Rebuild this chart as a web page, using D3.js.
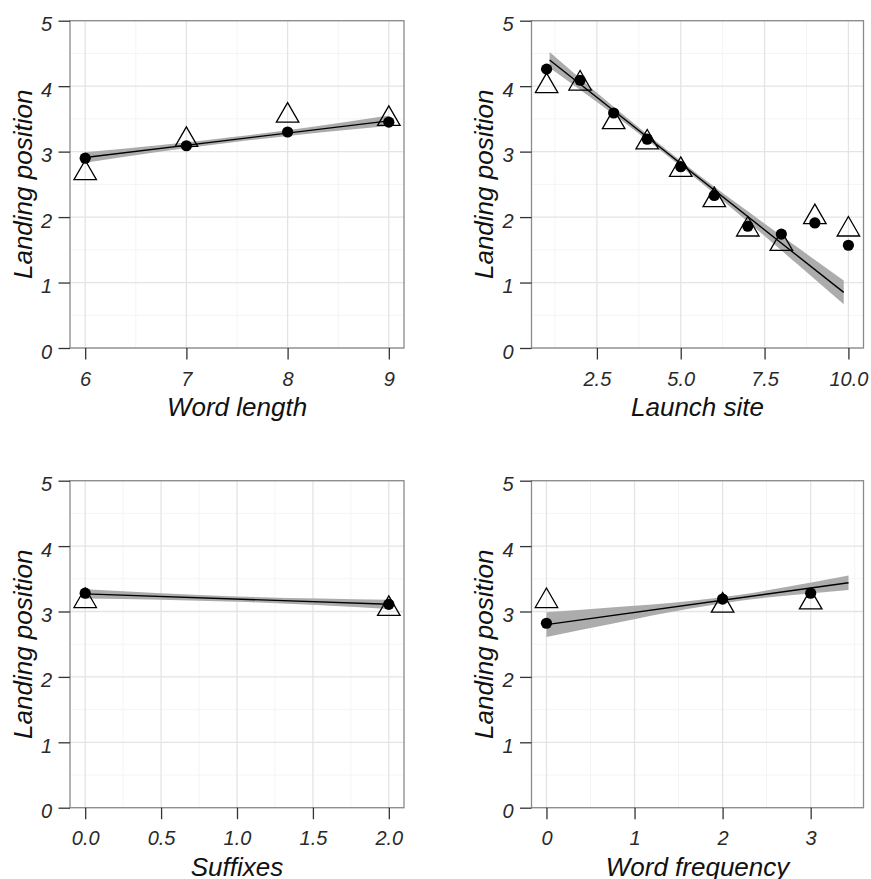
<!DOCTYPE html>
<html>
<head>
<meta charset="utf-8">
<script src="https://cdn.jsdelivr.net/npm/d3@7"></script>
<style>
  html, body { margin: 0; padding: 0; background: #ffffff; }
  svg { display: block; }
  text { font-family: "Liberation Sans", Arial, sans-serif; font-style: italic; }
</style>
</head>
<body>
<svg id="chart" width="871" height="879"></svg>
<script>
// ---- shared y scale values ----
const yTicks = [0, 1, 2, 3, 4, 5];
const yMinor = [0.5, 1.5, 2.5, 3.5, 4.5];
const yTitle = "Landing position";

// ---- Word length ----
const wordLengthX = [6, 7, 8, 9];
const wordLengthCircles = [2.90, 3.09, 3.30, 3.45];
const wordLengthTriangles = [2.67, 3.18, 3.55, 3.50];
const wordLengthFit = [[6, 2.91], [9, 3.47]];
const wordLengthBandX = [6, 6.75, 7.5, 8.25, 9];
const wordLengthBandHalf = [0.08, 0.05, 0.04, 0.05, 0.08];
const wordLengthTicks = [6, 7, 8, 9];
const wordLengthTickLabels = ["6", "7", "8", "9"];
const wordLengthMinor = [6.5, 7.5, 8.5];
const wordLengthDomain = [5.85, 9.15];

// ---- Launch site ----
const launchSiteX = [1, 2, 3, 4, 5, 6, 7, 8, 9, 10];
const launchSiteCircles = [4.26, 4.09, 3.59, 3.19, 2.77, 2.33, 1.86, 1.74, 1.91, 1.57];
const launchSiteTriangles = [4.00, 4.04, 3.45, 3.14, 2.72, 2.26, 1.81, 1.59, 2.00, 1.81];
const launchSiteFit = [[1.09, 4.40], [9.86, 0.85]];
const launchSiteBandX = [1.09, 2.5, 4, 5.5, 7, 8.5, 9.86];
const launchSiteBandHalf = [0.12, 0.07, 0.045, 0.045, 0.08, 0.13, 0.18];
const launchSiteTicks = [2.5, 5, 7.5, 10];
const launchSiteTickLabels = ["2.5", "5.0", "7.5", "10.0"];
const launchSiteMinor = [1.25, 3.75, 6.25, 8.75];
const launchSiteDomain = [0.55, 10.45];

// ---- Suffixes ----
const suffixesX = [0, 2];
const suffixesCircles = [3.28, 3.11];
const suffixesTriangles = [3.16, 3.04];
const suffixesFit = [[0, 3.27], [2, 3.11]];
const suffixesBandX = [0, 1, 2];
const suffixesBandHalf = [0.07, 0.04, 0.07];
const suffixesTicks = [0, 0.5, 1, 1.5, 2];
const suffixesTickLabels = ["0.0", "0.5", "1.0", "1.5", "2.0"];
const suffixesMinor = [0.25, 0.75, 1.25, 1.75];
const suffixesDomain = [-0.1, 2.1];

// ---- Word frequency ----
const wordFreqX = [0, 2, 3];
const wordFreqCircles = [2.82, 3.19, 3.28];
const wordFreqTriangles = [3.16, 3.09, 3.14];
const wordFreqFit = [[0, 2.80], [3.43, 3.44]];
const wordFreqBandX = [0, 0.8, 1.6, 2.2, 2.8, 3.43];
const wordFreqBandHalf = [0.19, 0.12, 0.06, 0.045, 0.07, 0.11];
const wordFreqTicks = [0, 1, 2, 3];
const wordFreqTickLabels = ["0", "1", "2", "3"];
const wordFreqMinor = [0.5, 1.5, 2.5, 3.5];
const wordFreqDomain = [-0.17, 3.6];

// ---- panel assembly ----
const panels = [
  { title: "Word length", x: wordLengthX, circles: wordLengthCircles, triangles: wordLengthTriangles,
    fit: wordLengthFit, bandX: wordLengthBandX, bandHalf: wordLengthBandHalf,
    ticks: wordLengthTicks, labels: wordLengthTickLabels, minor: wordLengthMinor, domain: wordLengthDomain,
    box: { left: 70, right: 404, top: 20.7, bottom: 348 } },
  { title: "Launch site", x: launchSiteX, circles: launchSiteCircles, triangles: launchSiteTriangles,
    fit: launchSiteFit, bandX: launchSiteBandX, bandHalf: launchSiteBandHalf,
    ticks: launchSiteTicks, labels: launchSiteTickLabels, minor: launchSiteMinor, domain: launchSiteDomain,
    box: { left: 531.5, right: 863.5, top: 20.7, bottom: 348 } },
  { title: "Suffixes", x: suffixesX, circles: suffixesCircles, triangles: suffixesTriangles,
    fit: suffixesFit, bandX: suffixesBandX, bandHalf: suffixesBandHalf,
    ticks: suffixesTicks, labels: suffixesTickLabels, minor: suffixesMinor, domain: suffixesDomain,
    box: { left: 70, right: 404, top: 480.7, bottom: 807.7 } },
  { title: "Word frequency", x: wordFreqX, circles: wordFreqCircles, triangles: wordFreqTriangles,
    fit: wordFreqFit, bandX: wordFreqBandX, bandHalf: wordFreqBandHalf,
    ticks: wordFreqTicks, labels: wordFreqTickLabels, minor: wordFreqMinor, domain: wordFreqDomain,
    box: { left: 531.5, right: 863.5, top: 480.7, bottom: 807.7 } }
];

const svg = d3.select("#chart");

// open triangle in the style of R's pch 2, centred on its centroid
function trianglePath(cx, cy) {
  const up = 13, down = 6.5, half = 11.25;
  return `M${cx},${cy - up}L${cx + half},${cy + down}L${cx - half},${cy + down}Z`;
}

panels.forEach(p => {
  const b = p.box;
  const x = d3.scaleLinear().domain(p.domain).range([b.left, b.right]);
  const y = d3.scaleLinear().domain([0, 5]).range([b.bottom, b.top]);
  const g = svg.append("g");

  // panel background
  g.append("rect").attr("x", b.left).attr("y", b.top)
    .attr("width", b.right - b.left).attr("height", b.bottom - b.top)
    .attr("fill", "#ffffff");

  // minor grid
  g.selectAll(".xminor").data(p.minor).join("line")
    .attr("x1", d => x(d)).attr("x2", d => x(d)).attr("y1", b.top).attr("y2", b.bottom)
    .attr("stroke", "#f4f4f4").attr("stroke-width", 1);
  g.selectAll(".yminor").data(yMinor).join("line")
    .attr("y1", d => y(d)).attr("y2", d => y(d)).attr("x1", b.left).attr("x2", b.right)
    .attr("stroke", "#f4f4f4").attr("stroke-width", 1);
  // major grid
  g.selectAll(".xmajor").data(p.ticks).join("line")
    .attr("x1", d => x(d)).attr("x2", d => x(d)).attr("y1", b.top).attr("y2", b.bottom)
    .attr("stroke", "#e4e4e4").attr("stroke-width", 1.3);
  g.selectAll(".ymajor").data(yTicks).join("line")
    .attr("y1", d => y(d)).attr("y2", d => y(d)).attr("x1", b.left).attr("x2", b.right)
    .attr("stroke", "#e4e4e4").attr("stroke-width", 1.3);

  // fitted line and its confidence band
  const slope = (p.fit[1][1] - p.fit[0][1]) / (p.fit[1][0] - p.fit[0][0]);
  const fitAt = v => p.fit[0][1] + slope * (v - p.fit[0][0]);
  const band = p.bandX.map((v, i) => ({ x: v, lo: fitAt(v) - p.bandHalf[i], hi: fitAt(v) + p.bandHalf[i] }));
  g.append("path").datum(band)
    .attr("d", d3.area().curve(d3.curveMonotoneX)
      .x(d => x(d.x)).y0(d => y(d.lo)).y1(d => y(d.hi)))
    .attr("fill", "#acacac");
  g.append("path").datum(p.fit)
    .attr("d", d3.line().x(d => x(d[0])).y(d => y(d[1])))
    .attr("stroke", "#000").attr("stroke-width", 1.4).attr("fill", "none");

  // open triangles
  g.selectAll(".tri").data(p.x.map((v, i) => [v, p.triangles[i]])).join("path")
    .attr("d", d => trianglePath(x(d[0]), y(d[1])))
    .attr("fill", "none").attr("stroke", "#000").attr("stroke-width", 1.3);
  // filled circles
  g.selectAll(".dot").data(p.x.map((v, i) => [v, p.circles[i]])).join("circle")
    .attr("cx", d => x(d[0])).attr("cy", d => y(d[1])).attr("r", 5.6)
    .attr("fill", "#000");

  // panel border
  g.append("rect").attr("x", b.left).attr("y", b.top)
    .attr("width", b.right - b.left).attr("height", b.bottom - b.top)
    .attr("fill", "none").attr("stroke", "#8a8a8a").attr("stroke-width", 1.3);

  // axes
  const xa = g.append("g").attr("transform", `translate(0,${b.bottom})`)
    .call(d3.axisBottom(x).tickValues(p.ticks).tickFormat((d, i) => p.labels[i])
      .tickSize(11.5).tickSizeOuter(0).tickPadding(12));
  const ya = g.append("g").attr("transform", `translate(${b.left},0)`)
    .call(d3.axisLeft(y).tickValues(yTicks).tickFormat(d3.format("d"))
      .tickSize(11.5).tickSizeOuter(0).tickPadding(6.5));
  [xa, ya].forEach(a => {
    a.select(".domain").remove();
    a.selectAll(".tick line").attr("stroke", "#333").attr("stroke-width", 1.3);
    a.selectAll(".tick text").attr("fill", "#2a2a2a")
      .style("font-size", "20px").style("font-family", '"Liberation Sans", Arial, sans-serif')
      .style("font-style", "italic");
  });
  ya.selectAll(".tick text").attr("dy", "0.5em");

  // axis titles
  g.append("text").attr("x", (b.left + b.right) / 2).attr("y", b.bottom + 68)
    .attr("text-anchor", "middle").attr("fill", "#111").style("font-size", "26px")
    .text(p.title);
  g.append("text")
    .attr("transform", `translate(${b.left - 38.5},${(b.top + b.bottom) / 2}) rotate(-90)`)
    .attr("text-anchor", "middle").attr("fill", "#111").style("font-size", "26px")
    .text(yTitle);
});
</script>
</body>
</html>
